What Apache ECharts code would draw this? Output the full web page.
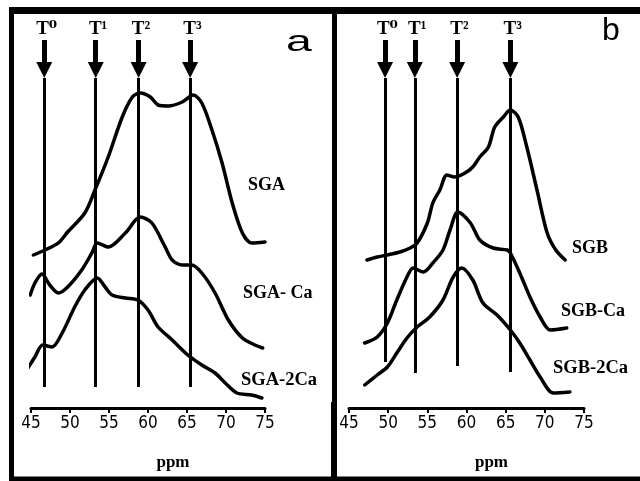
<!DOCTYPE html>
<html>
<head>
<meta charset="utf-8">
<script src="https://cdn.jsdelivr.net/npm/echarts@6/dist/echarts.min.js"></script>
<style>
  html, body { margin: 0; padding: 0; background: #fff; }
  #chart { width: 640px; height: 481px; }
</style>
</head>
<body>
<div id="chart"></div>
<script>
// ppm axis
const ppmMin = 45
const ppmMax = 75
const ppmStep = 5

// T0..T3 marker positions (ppm) and where the marker line stops (intensity)
const tNames = ['T⁰', 'T¹', 'T²', 'T³']
const tPeaksA = [46.7, 53.3, 58.8, 65.4]
const tPeaksB = [49.6, 53.4, 58.8, 65.6]
const tBottomA = [21, 21, 21, 21]
const tBottomB = [46, 35, 42, 36]

// spectra, [ppm, intensity (arb. units)]
const sga = [[45.3, 153], [46.8, 158], [48.5, 165], [49.7, 176], [51.9, 195], [53.2, 218], [54.9, 251], [56.7, 291], [58.0, 311], [59.0, 315], [60.3, 311], [61.3, 303], [62.6, 302], [64.4, 306], [65.8, 313], [66.9, 305], [68.2, 278], [69.5, 245], [70.8, 205], [72.1, 175], [73.3, 165], [75.0, 166]]
const sgaCa = [[44.9, 113], [45.5, 125], [46.4, 134], [47.4, 123], [48.5, 115], [49.7, 121], [51.5, 138], [52.8, 155], [53.5, 165], [54.9, 161], [57.1, 175], [59.0, 191], [60.5, 185], [62.2, 161], [63.1, 148], [64.4, 143], [65.6, 143], [66.9, 135], [68.6, 115], [70.3, 88], [72.1, 70], [73.7, 63], [74.7, 60]]
const sga2Ca = [[44.6, 40], [45.5, 51], [46.5, 63], [47.7, 61], [49.0, 75], [50.6, 101], [51.9, 118], [53.5, 130], [54.5, 121], [55.4, 113], [57.1, 110], [58.7, 108], [60.0, 98], [61.3, 81], [63.1, 68], [65.1, 53], [66.9, 43], [68.6, 35], [69.9, 25], [71.4, 15], [73.3, 13], [74.6, 10]]
const sgb = [[47.3, 148], [48.6, 151], [49.9, 153], [51.5, 156], [52.8, 160], [53.7, 165], [55.0, 185], [55.7, 205], [56.6, 218], [57.5, 233], [58.5, 231], [59.8, 235], [60.8, 241], [61.7, 251], [62.8, 261], [63.6, 281], [64.7, 291], [65.6, 298], [66.6, 291], [67.7, 261], [69.0, 218], [70.3, 175], [71.4, 158], [72.6, 148]]
const sgbCa = [[47.0, 65], [48.6, 71], [49.9, 85], [51.1, 108], [52.4, 131], [53.2, 140], [54.5, 136], [55.7, 145], [57.0, 158], [57.9, 178], [58.9, 196], [60.5, 185], [61.7, 168], [63.4, 160], [65.2, 158], [65.6, 155], [66.8, 135], [68.1, 111], [69.4, 91], [70.7, 78], [72.8, 80]]
const sgb2Ca = [[47.0, 23], [48.6, 33], [49.9, 41], [51.1, 55], [52.4, 70], [53.7, 81], [55.3, 91], [57.0, 108], [58.3, 131], [59.4, 140], [60.8, 128], [62.1, 105], [63.9, 93], [65.6, 78], [66.8, 65], [68.1, 48], [69.4, 31], [71.1, 15], [73.2, 16]]

const intTop = 368 // top of plot area
const arrowEnd = 338 // centre of the arrow head
const lineTop = 330 // where the thin marker line begins

const serif = '"Liberation Serif", "DejaVu Serif", serif'

function markers (peaks, bottoms) {
  let data = []
  peaks.forEach((p, i) => {
    data.push([
      {
        coord: [p, intTop],
        symbol: 'none',
        lineStyle: { width: 5 },
        label: {
          show: true,
          position: 'start',
          distance: 1,
          formatter: ' ' + tNames[i],
          fontFamily: serif,
          fontWeight: 'bold',
          fontSize: 19,
          color: '#000'
        }
      },
      { coord: [p, arrowEnd], symbol: 'triangle' }
    ])
    data.push([
      { coord: [p, lineTop], symbol: 'none', lineStyle: { width: 3 }, label: { show: false } },
      { coord: [p, bottoms[i]], symbol: 'none' }
    ])
  })
  return {
    silent: true,
    animation: false,
    symbolSize: 16,
    lineStyle: { color: '#000', type: 'solid' },
    itemStyle: { color: '#000' },
    data: data
  }
}

function curve (name, data, idx, mark) {
  let s = {
    name: name,
    type: 'line',
    xAxisIndex: idx,
    yAxisIndex: idx,
    data: data,
    smooth: 0.3,
    showSymbol: false,
    clip: false,
    lineStyle: { color: '#000', width: 3.5, cap: 'round', join: 'round' },
    z: 3
  }
  if (mark) s.markLine = mark
  return s
}

function xAxis (idx) {
  return {
    type: 'value',
    gridIndex: idx,
    min: ppmMin,
    max: ppmMax,
    interval: ppmStep,
    splitLine: { show: false },
    axisLine: { lineStyle: { color: '#000', width: 3 } },
    axisTick: { length: 5, lineStyle: { color: '#000', width: 2 } },
    axisLabel: {
      color: '#000',
      fontSize: 17,
      fontFamily: '"Liberation Sans Narrow", "DejaVu Sans Condensed", sans-serif',
      margin: 7
    },
    name: 'ppm',
    nameLocation: 'middle',
    nameGap: 46,
    nameTextStyle: { color: '#000', fontFamily: serif, fontWeight: 'bold', fontSize: 17, padding: [0, 0, 0, 50] }
  }
}

function yAxis (idx) {
  return { type: 'value', gridIndex: idx, min: 0, max: intTop, show: false }
}

function tag (text, x, y, size, font, bold, sx) {
  return {
    type: 'text',
    x: x,
    y: y,
    scaleX: sx || 1,
    style: {
      text: text,
      fill: '#000',
      font: (bold ? 'bold ' : '') + size + 'px ' + font,
      textVerticalAlign: 'middle'
    }
  }
}

function bar (x1, y1, x2, y2, w) {
  return { type: 'line', shape: { x1: x1, y1: y1, x2: x2, y2: y2 }, style: { stroke: '#000', lineWidth: w } }
}

const chart = echarts.init(document.getElementById('chart'))
chart.setOption({
  backgroundColor: '#fff',
  animation: false,
  grid: [
    { left: 31, right: 375, top: 40, bottom: 73 },
    { left: 349, right: 56, top: 40, bottom: 73 }
  ],
  xAxis: [xAxis(0), xAxis(1)],
  yAxis: [yAxis(0), yAxis(1)],
  series: [
    curve('SGA', sga, 0, markers(tPeaksA, tBottomA)),
    curve('SGA-Ca', sgaCa, 0),
    curve('SGA-2Ca', sga2Ca, 0),
    curve('SGB', sgb, 1, markers(tPeaksB, tBottomB)),
    curve('SGB-Ca', sgbCa, 1),
    curve('SGB-2Ca', sgb2Ca, 1)
  ],
  graphic: [
    // frame
    bar(9, 10.5, 640, 10.5, 7),
    bar(11.5, 7, 11.5, 481, 5),
    bar(9, 479, 640, 479, 5),
    bar(334.5, 7, 334.5, 481, 5),
    bar(334, 402, 334, 481, 6),
    // panel letters
    tag('a', 286, 43, 29, '"Liberation Sans", Arial, sans-serif', false, 1.6),
    tag('b', 602, 31, 32, '"Liberation Sans", Arial, sans-serif'),
    // curve names
    tag('SGA', 248, 185, 18, serif, true),
    tag('SGA- Ca', 243, 293, 18, serif, true),
    tag('SGA-2Ca', 241, 380, 18.5, serif, true),
    tag('SGB', 572, 248, 18, serif, true),
    tag('SGB-Ca', 561, 311, 18, serif, true),
    tag('SGB-2Ca', 553, 368, 18.5, serif, true)
  ]
})
</script>
</body>
</html>
